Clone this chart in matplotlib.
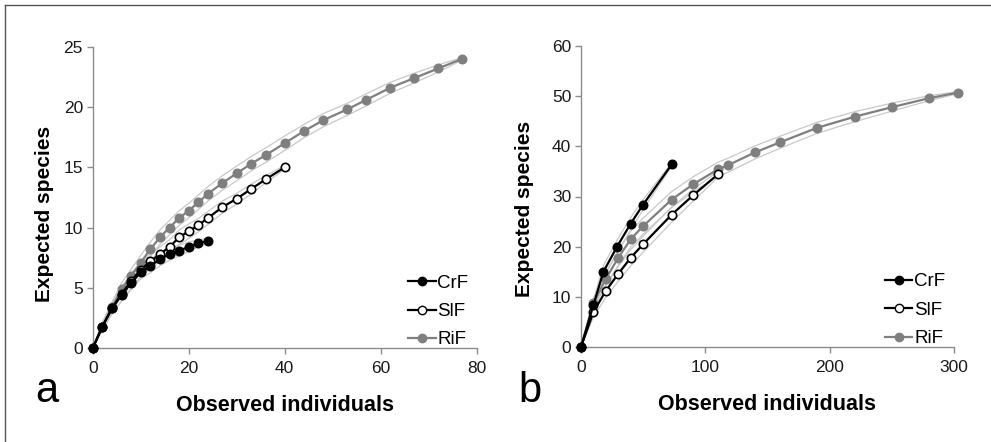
import matplotlib

matplotlib.use("Agg")
import matplotlib.pyplot as plt  # noqa: E402
from matplotlib.lines import Line2D  # noqa: E402

plt.rcParams["font.family"] = ["Liberation Sans", "DejaVu Sans"]

# panel a: expected species vs observed individuals
a_crf_x = [0, 2, 4, 6, 8, 10, 12, 14, 16, 18, 20, 22, 24]
a_crf_y = [0, 1.8, 3.3, 4.4, 5.4, 6.3, 6.8, 7.4, 7.8, 8.1, 8.4, 8.7, 8.9]
a_crf_sd = [0, 0.3, 0.45, 0.5, 0.55, 0.55, 0.55, 0.55, 0.5, 0.45, 0.4, 0.3, 0.2]
a_slf_x = [0, 2, 4, 6, 8, 10, 12, 14, 16, 18, 20, 22, 24, 27, 30, 33, 36, 40]
a_slf_y = [0, 1.8, 3.3, 4.5, 5.6, 6.5, 7.2, 7.8, 8.4, 9.2, 9.7, 10.2, 10.8,
           11.7, 12.4, 13.2, 14.0, 15.0]
a_slf_sd = [0, 0.3, 0.45, 0.55, 0.6, 0.6, 0.6, 0.6, 0.6, 0.6, 0.6, 0.55, 0.55,
            0.5, 0.45, 0.4, 0.3, 0.15]
a_rif_x = [0, 2, 4, 6, 8, 10, 12, 14, 16, 18, 20, 22, 24, 27, 30, 33, 36, 40,
           44, 48, 53, 57, 62, 67, 72, 77]
a_rif_y = [0, 1.8, 3.4, 4.9, 6.0, 7.1, 8.2, 9.2, 10.0, 10.8, 11.4, 12.1, 12.8,
           13.7, 14.5, 15.3, 16.0, 17.0, 18.0, 18.9, 19.8, 20.6, 21.6, 22.4,
           23.2, 24.0]
a_rif_sd = [0, 0.3, 0.4, 0.5, 0.55, 0.6, 0.6, 0.6, 0.6, 0.6, 0.6, 0.6, 0.6,
            0.6, 0.6, 0.6, 0.6, 0.6, 0.55, 0.55, 0.5, 0.5, 0.45, 0.4, 0.3, 0.1]

# panel b
b_crf_x = [0, 10, 18, 29, 40, 50, 73]
b_crf_y = [0, 8.4, 15.0, 20.0, 24.6, 28.4, 36.4]
b_crf_sd = [0, 1.0, 1.2, 1.3, 1.2, 1.0, 0.3]
b_slf_x = [0, 10, 20, 30, 40, 50, 73, 90, 110]
b_slf_y = [0, 7.0, 11.2, 14.6, 17.8, 20.5, 26.4, 30.2, 34.4]
b_slf_sd = [0, 1.0, 1.3, 1.5, 1.6, 1.6, 1.5, 1.2, 0.6]
b_rif_x = [0, 10, 20, 30, 40, 50, 73, 90, 110, 118, 140, 160, 190, 220, 250,
           280, 303]
b_rif_y = [0, 8.7, 13.6, 17.8, 21.5, 24.1, 29.4, 32.4, 35.4, 36.2, 38.8, 40.8,
           43.7, 45.9, 47.8, 49.6, 50.7]
b_rif_sd = [0, 1.0, 1.3, 1.5, 1.6, 1.6, 1.6, 1.5, 1.4, 1.4, 1.3, 1.2, 1.1,
            1.0, 0.8, 0.5, 0.2]

BLACK, GREY, BAND = "#000000", "#7f7f7f", "#c8c8c8"
W, H = 991, 442


def draw(ax, series, xmax, ymax, xstep, ystep):
    for x, y, sd, col, face in series:
        lo = [v - s for v, s in zip(y, sd)]
        hi = [v + s for v, s in zip(y, sd)]
        ax.plot(x, lo, c=BAND, lw=0.9, zorder=1, clip_on=False)
        ax.plot(x, hi, c=BAND, lw=0.9, zorder=1, clip_on=False)
    for x, y, sd, col, face in series:
        ax.plot(x, y, "o-", c=col, mfc=face, mec=col, lw=1.6, ms=6, mew=1.2,
                zorder=3, clip_on=False)
    ax.set_xlim(0, xmax)
    ax.set_ylim(0, ymax)
    ax.set_xticks(range(0, xmax + 1, xstep))
    ax.set_yticks(range(0, ymax + 1, ystep))
    ax.spines[["top", "right"]].set_visible(False)
    for s in ("left", "bottom"):
        ax.spines[s].set_color("#8c8c8c")
        ax.spines[s].set_linewidth(1.0)
    ax.tick_params(axis="both", colors="#8c8c8c", labelcolor="#1a1a1a",
                   labelsize=12.5, length=4, width=1.0)
    ax.tick_params(axis="x", pad=5)
    ax.tick_params(axis="y", pad=3)
    ax.set_xlabel("Observed individuals", fontsize=15.5, fontweight="bold")
    ax.set_ylabel("Expected species", fontsize=15, fontweight="bold")
    ax.xaxis.set_label_coords(0.5, -0.155)
    handles = [Line2D([], [], c=BLACK, marker="o", mfc=BLACK, ms=6, lw=1.6),
               Line2D([], [], c=BLACK, marker="o", mfc="white", mec=BLACK, ms=6, lw=1.6),
               Line2D([], [], c=GREY, marker="o", mfc=GREY, mec=GREY, ms=6, lw=1.6)]
    return handles


fig = plt.figure(figsize=(W / 100, H / 100), dpi=100)
ax_a = fig.add_axes([92.7 / W, 1 - 348.3 / H, 384 / W, 301.6 / H])
ax_b = fig.add_axes([581 / W, 1 - 347 / H, 373 / W, 301 / H])

h = draw(ax_a, [(a_rif_x, a_rif_y, a_rif_sd, GREY, GREY),
                (a_slf_x, a_slf_y, a_slf_sd, BLACK, "white"),
                (a_crf_x, a_crf_y, a_crf_sd, BLACK, BLACK)], 80, 25, 20, 5)
ax_a.yaxis.set_label_coords(-0.1, 0.444)
h = draw(ax_b, [(b_rif_x, b_rif_y, b_rif_sd, GREY, GREY),
                (b_slf_x, b_slf_y, b_slf_sd, BLACK, "white"),
                (b_crf_x, b_crf_y, b_crf_sd, BLACK, BLACK)], 300, 60, 100, 10)
ax_b.yaxis.set_label_coords(-0.125, 0.46)

for ax, lx in ((ax_a, 0.822), (ax_b, 0.815)):
    ax.legend(h, ["CrF", "SlF", "RiF"], loc="center left", bbox_to_anchor=(lx, 0.122),
              frameon=False, fontsize=13.5, handlelength=1.45, handletextpad=0.1,
              labelspacing=0.6, borderpad=0, borderaxespad=0)

fig.text(35 / W, 1 - 402 / H, "a", fontsize=30, ha="left", va="baseline")
fig.text(518 / W, 1 - 402 / H, "b", fontsize=30, ha="left", va="baseline")

# thin frame on the top and left edges of the figure
fig.add_artist(Line2D([5 / W, 5 / W], [0, 1 - 5 / H], c="#555555", lw=1.0))
fig.add_artist(Line2D([5 / W, 1], [1 - 5 / H, 1 - 5 / H], c="#555555", lw=1.0))

fig.savefig("out.png", dpi=100)
